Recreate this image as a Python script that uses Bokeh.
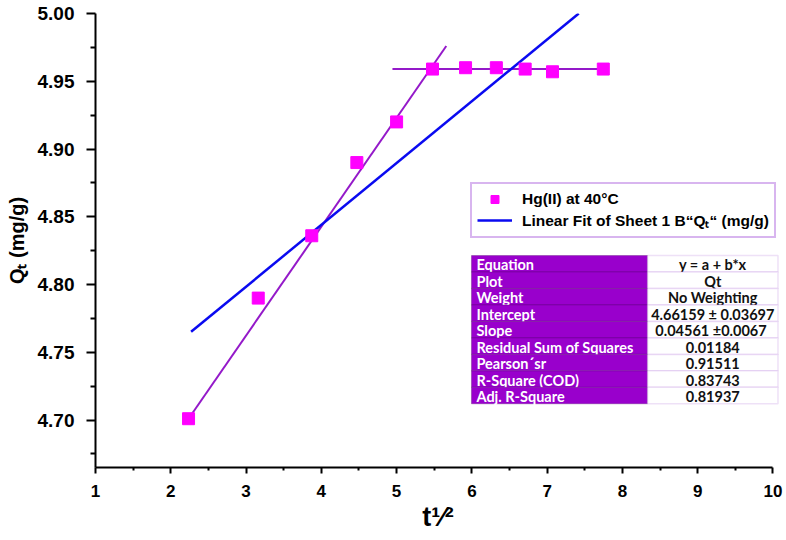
import numpy as np
from bokeh.plotting import figure
from bokeh.models import (Range1d, FixedTicker, Label, BoxAnnotation, Legend, LegendItem,
                          NumeralTickFormatter)
from bokeh.embed import file_html
from bokeh.resources import INLINE

# ---------------- data ----------------
sqrt_t = [2.236, 3.162, 3.873, 4.472, 5.000, 5.477, 5.916, 6.325, 6.708, 7.071, 7.746]
qt = [4.701, 4.790, 4.836, 4.890, 4.920, 4.959, 4.960, 4.960, 4.959, 4.957, 4.959]

# linear fit reported in the table (blue line)
fit_intercept = 4.66159
fit_slope = 0.04561
fit_extent = [2.27, 7.42]

# hand-drawn stage lines (purple)
stage1_x = [2.236, 5.66]
stage1_y = [4.701, 4.976]
stage2_x = [4.945, 7.72]
stage2_y = [4.959, 4.959]

x_ticks = [1, 2, 3, 4, 5, 6, 7, 8, 9, 10]
x_minor = [1.5, 2.5, 3.5, 4.5, 5.5, 6.5, 7.5, 8.5, 9.5]
y_ticks = [4.70, 4.75, 4.80, 4.85, 4.90, 4.95, 5.00]
y_minor = [4.675, 4.725, 4.775, 4.825, 4.875, 4.925, 4.975]

table_params = ["Equation", "Plot", "Weight", "Intercept", "Slope",
                "Residual Sum of Squares", "Pearson\u00b4sr", "R-Square (COD)", "Adj. R-Square"]
table_values = ["y = a + b*x", "Qt", "No Weighting", "4.66159 \u00b1 0.03697",
                "0.04561  \u00b10.0067", "0.01184", "0.91511", "0.83743", "0.81937"]

legend_labels = ["Hg(II) at 40\u00b0C", "Linear Fit of Sheet 1 B\u201cQ\u209c\u201c (mg/g)"]
x_title = "t\u00b9\u2044\u00b2"
y_title = "Q\u209c (mg/g)"

# ---------------- figure ----------------
X0, X_AXIS_END, X1 = 1.0, 10.0, 10.1
Y0, Y1 = 4.665, 5.0
p = figure(width=784, height=536, x_range=Range1d(X0, X1), y_range=Range1d(Y0, Y1),
           output_backend="svg", toolbar_location=None,
           min_border_left=95, min_border_right=4, min_border_top=13, min_border_bottom=69)
p.outline_line_color = None
p.background_fill_color = "white"
p.border_fill_color = "white"
p.xgrid.visible = False
p.ygrid.visible = False

# pixel -> data helpers for annotation placement (axis 1..10 spans px 95..772, y 13..467)
FL, FR, FT, FB = 95.0, 772.0, 13.0, 467.0
def dx(px):
    return X0 + (px - FL) / (FR - FL) * (X_AXIS_END - X0)
def dy(py):
    return Y1 - (py - FT) / (FB - FT) * (Y1 - Y0)

AX_FONT = "Liberation Sans"
p.xaxis.ticker = FixedTicker(ticks=x_ticks, minor_ticks=x_minor)
p.yaxis.ticker = FixedTicker(ticks=y_ticks, minor_ticks=y_minor)
p.yaxis.formatter = NumeralTickFormatter(format="0.00")
p.xaxis.bounds = (X0, X_AXIS_END)
for ax in (p.xaxis[0], p.yaxis[0]):
    ax.axis_line_width = 2
    ax.axis_line_color = "black"
    ax.major_tick_line_width = 2
    ax.minor_tick_line_width = 2
    ax.major_tick_in = 0
    ax.minor_tick_in = 0
    ax.major_label_text_font = AX_FONT
    ax.major_label_text_font_style = "bold"
    ax.major_label_text_color = "black"
    ax.axis_label_text_font = AX_FONT
    ax.axis_label_text_font_style = "bold"
    ax.axis_label_text_color = "black"
p.xaxis.major_tick_out = 6
p.xaxis.minor_tick_out = 3
p.xaxis.major_label_standoff = 11
p.xaxis.major_label_text_font_size = "17px"
p.xaxis.axis_label = x_title
p.xaxis.axis_label_text_font_size = "27px"
p.xaxis.axis_label_standoff = 2
p.yaxis.major_tick_out = 9
p.yaxis.minor_tick_out = 5
p.yaxis.major_label_standoff = 12
p.yaxis.major_label_text_font_size = "19px"
p.yaxis.axis_label = y_title
p.yaxis.axis_label_text_font_size = "20px"
p.yaxis.axis_label_standoff = 7

# ---------------- lines & points ----------------
PURPLE = "#9419C9"
p.line(stage1_x, stage1_y, line_color=PURPLE, line_width=2)
p.line(stage2_x, stage2_y, line_color=PURPLE, line_width=2)

fit_line = p.line(fit_extent, [fit_intercept + fit_slope * v for v in fit_extent],
                  line_color="#0A0AF0", line_width=2.5)
pts = p.scatter(sqrt_t, qt, marker="square", size=12, fill_color="#FF00FF",
                line_color="#FF00FF")

# ---------------- legend ----------------
legend = Legend(items=[LegendItem(label=legend_labels[0], renderers=[pts]),
                       LegendItem(label=legend_labels[1], renderers=[fit_line])],
                location=(375, 229), orientation="vertical")
legend.border_line_color = "#B26BDF"
legend.border_line_width = 2
legend.background_fill_color = "white"
legend.background_fill_alpha = 1
legend.padding = 5
legend.margin = 0
legend.spacing = 0
legend.label_height = 20
legend.glyph_height = 20
legend.glyph_width = 35
legend.label_standoff = 10
legend.label_text_font = AX_FONT
legend.label_text_font_style = "bold"
legend.label_text_font_size = "15.5px"
legend.label_text_color = "black"
p.add_layout(legend, "center")

# ---------------- parameter table ----------------
T_L, T_M, T_R = 470.7, 646.7, 777.0
T_TOP, ROW_H = 255.0, 16.48
TBL_FONT = "Lato"
for i, (name, val) in enumerate(zip(table_params, table_values)):
    top = T_TOP + i * ROW_H
    bot = top + ROW_H
    p.add_layout(BoxAnnotation(left=dx(T_L), right=dx(T_M), top=dy(top), bottom=dy(bot),
                               fill_color="#9900CC", fill_alpha=1,
                               line_color="#4A0063", line_width=1, level="overlay"))
    p.add_layout(BoxAnnotation(left=dx(T_M), right=dx(T_R), top=dy(top), bottom=dy(bot),
                               fill_color="white", fill_alpha=1,
                               line_color="#C69BE6", line_width=1.5, level="overlay"))
    ymid = dy(top + ROW_H / 2 + 1)
    p.add_layout(Label(x=dx(T_L + 5), y=ymid, text=name, text_color="white",
                       text_font=TBL_FONT, text_font_style="bold", text_font_size="14.5px",
                       text_align="left", text_baseline="middle", level="overlay"))
    p.add_layout(Label(x=dx((T_M + T_R) / 2), y=ymid, text=val, text_color="#111111",
                       text_font=TBL_FONT, text_font_style="bold", text_font_size="14.5px",
                       text_align="center", text_baseline="middle", level="overlay"))

open("out.html", "w").write(file_html(p, INLINE))
